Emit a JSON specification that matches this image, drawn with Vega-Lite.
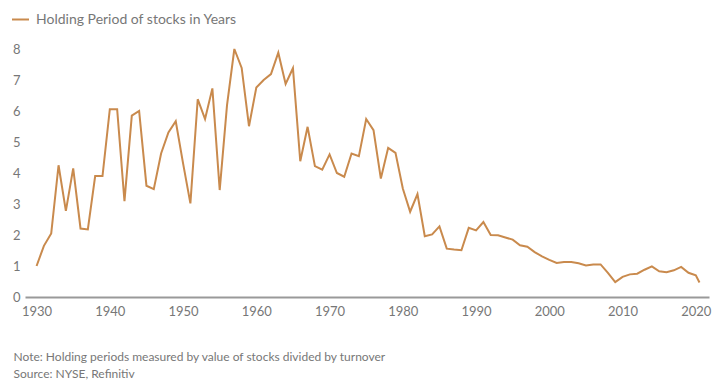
{
  "$schema": "https://vega.github.io/schema/vega-lite/v6.json",
  "width": 684,
  "height": 248,
  "autosize": {"type": "none"},
  "padding": {"left": 25, "top": 49, "right": 7, "bottom": 86},
  "background": "white",
  "config": {"view": {"stroke": null}, "font": "Lato"},
  "data": {
    "values": [
      {"year": 1930, "value": 1.0}, {"year": 1931, "value": 1.65}, {"year": 1932, "value": 2.05},
      {"year": 1933, "value": 4.25}, {"year": 1934, "value": 2.78}, {"year": 1935, "value": 4.15},
      {"year": 1936, "value": 2.21}, {"year": 1937, "value": 2.18}, {"year": 1938, "value": 3.9},
      {"year": 1939, "value": 3.9}, {"year": 1940, "value": 6.06}, {"year": 1941, "value": 6.06},
      {"year": 1942, "value": 3.09}, {"year": 1943, "value": 5.85}, {"year": 1944, "value": 6.0},
      {"year": 1945, "value": 3.59}, {"year": 1946, "value": 3.48}, {"year": 1947, "value": 4.63},
      {"year": 1948, "value": 5.31}, {"year": 1949, "value": 5.67}, {"year": 1950, "value": 4.31},
      {"year": 1951, "value": 3.02}, {"year": 1952, "value": 6.38}, {"year": 1953, "value": 5.74},
      {"year": 1954, "value": 6.73}, {"year": 1955, "value": 3.45}, {"year": 1956, "value": 6.19},
      {"year": 1957, "value": 8.0}, {"year": 1958, "value": 7.39}, {"year": 1959, "value": 5.51},
      {"year": 1960, "value": 6.76}, {"year": 1961, "value": 7.0}, {"year": 1962, "value": 7.19},
      {"year": 1963, "value": 7.88}, {"year": 1964, "value": 6.87}, {"year": 1965, "value": 7.38},
      {"year": 1966, "value": 4.38}, {"year": 1967, "value": 5.49}, {"year": 1968, "value": 4.22},
      {"year": 1969, "value": 4.11}, {"year": 1970, "value": 4.6}, {"year": 1971, "value": 4.0},
      {"year": 1972, "value": 3.88}, {"year": 1973, "value": 4.63}, {"year": 1974, "value": 4.54},
      {"year": 1975, "value": 5.74}, {"year": 1976, "value": 5.38}, {"year": 1977, "value": 3.82},
      {"year": 1978, "value": 4.81}, {"year": 1979, "value": 4.65}, {"year": 1980, "value": 3.5},
      {"year": 1981, "value": 2.75}, {"year": 1982, "value": 3.32}, {"year": 1983, "value": 1.96},
      {"year": 1984, "value": 2.02}, {"year": 1985, "value": 2.28}, {"year": 1986, "value": 1.56},
      {"year": 1987, "value": 1.53}, {"year": 1988, "value": 1.51}, {"year": 1989, "value": 2.23},
      {"year": 1990, "value": 2.15}, {"year": 1991, "value": 2.42}, {"year": 1992, "value": 2.0},
      {"year": 1993, "value": 1.99}, {"year": 1994, "value": 1.92}, {"year": 1995, "value": 1.85},
      {"year": 1996, "value": 1.67}, {"year": 1997, "value": 1.62}, {"year": 1998, "value": 1.45},
      {"year": 1999, "value": 1.31}, {"year": 2000, "value": 1.2}, {"year": 2001, "value": 1.1},
      {"year": 2002, "value": 1.13}, {"year": 2003, "value": 1.13}, {"year": 2004, "value": 1.09},
      {"year": 2005, "value": 1.02}, {"year": 2006, "value": 1.05}, {"year": 2007, "value": 1.05},
      {"year": 2008, "value": 0.78}, {"year": 2009, "value": 0.48}, {"year": 2010, "value": 0.65},
      {"year": 2011, "value": 0.73}, {"year": 2012, "value": 0.75}, {"year": 2013, "value": 0.88},
      {"year": 2014, "value": 0.99}, {"year": 2015, "value": 0.83}, {"year": 2016, "value": 0.8},
      {"year": 2017, "value": 0.86}, {"year": 2018, "value": 0.97}, {"year": 2019, "value": 0.78},
      {"year": 2020, "value": 0.7}, {"year": 2020.5, "value": 0.47}
    ]
  },
  "mark": {"type": "line", "strokeWidth": 2},
  "encoding": {
    "x": {
      "field": "year",
      "type": "quantitative",
      "scale": {"domain": [1928.42, 2021.8], "nice": false, "zero": false},
      "axis": {
        "values": [1930, 1940, 1950, 1960, 1970, 1980, 1990, 2000, 2010, 2020],
        "format": "d",
        "grid": false,
        "ticks": false,
        "domainColor": "#999999",
        "domainWidth": 2,
        "labelColor": "#777777",
        "labelFontSize": 13,
        "labelPadding": 8,
        "labelFlush": false,
        "title": ["Note: Holding periods measured by value of stocks divided by turnover", "Source: NYSE, Refinitiv"],
        "titleX": -12,
        "titleY": 54,
        "titleAlign": "left",
        "titleAnchor": "start",
        "titleBaseline": "top",
        "titleFontSize": 12,
        "titleFontWeight": "normal",
        "titleColor": "#777777",
        "titleLineHeight": 17
      }
    },
    "y": {
      "field": "value",
      "type": "quantitative",
      "scale": {"domain": [0, 8], "nice": false},
      "axis": {
        "values": [0, 1, 2, 3, 4, 5, 6, 7, 8],
        "grid": false,
        "ticks": false,
        "domain": false,
        "labelColor": "#777777",
        "labelFontSize": 13,
        "labelPadding": 5,
        "title": null
      }
    },
    "color": {
      "datum": "Holding Period of stocks in Years",
      "type": "nominal",
      "scale": {"range": ["#c98a4d"]},
      "legend": {
        "title": null,
        "orient": "none",
        "legendX": -14,
        "legendY": -39,
        "symbolType": "stroke",
        "symbolSize": 289,
        "symbolStrokeWidth": 2,
        "labelFontSize": 14,
        "labelColor": "#777777",
        "labelOffset": 6,
        "labelLimit": 400
      }
    }
  }
}
